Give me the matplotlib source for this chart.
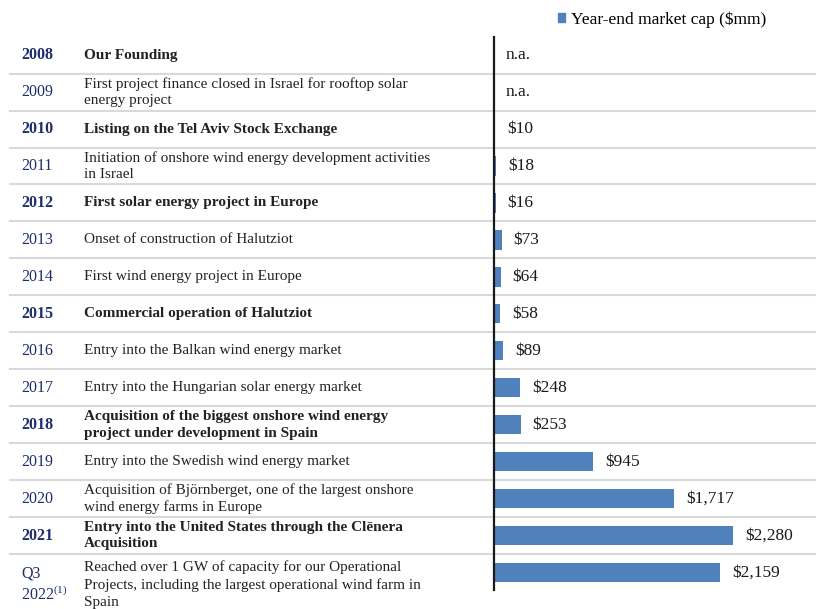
import matplotlib
matplotlib.use('Agg')
import matplotlib.pyplot as plt
import matplotlib.transforms as mtransforms
from matplotlib.patches import Patch
import numpy as np

plt.rcParams['font.family'] = ['Liberation Serif', 'DejaVu Serif']
plt.rcParams['mathtext.fontset'] = 'custom'
plt.rcParams['mathtext.rm'] = 'Liberation Serif'

# data
years = ['2008', '2009', '2010', '2011', '2012', '2013', '2014', '2015',
         '2016', '2017', '2018', '2019', '2020', '2021',
         'Q3\n2022$^{\\mathrm{(1)}}$']
events = [
    'Our Founding',
    'First project finance closed in Israel for rooftop solar\nenergy project',
    'Listing on the Tel Aviv Stock Exchange',
    'Initiation of onshore wind energy development activities\nin Israel',
    'First solar energy project in Europe',
    'Onset of construction of Halutziot',
    'First wind energy project in Europe',
    'Commercial operation of Halutziot',
    'Entry into the Balkan wind energy market',
    'Entry into the Hungarian solar energy market',
    'Acquisition of the biggest onshore wind energy\nproject under development in Spain',
    'Entry into the Swedish wind energy market',
    'Acquisition of Björnberget, one of the largest onshore\nwind energy farms in Europe',
    'Entry into the United States through the Clēnera\nAcquisition',
    'Reached over 1 GW of capacity for our Operational\nProjects, including the largest operational wind farm in\nSpain',
]
highlight = [True, False, True, False, True, False, False, True,
             False, False, True, False, False, True, False]
market_cap = [np.nan, np.nan, 10, 18, 16, 73, 64, 58, 89, 248, 253, 945, 1717, 2280, 2159]

W, H = 816, 609
fig = plt.figure(figsize=(W / 100, H / 100), dpi=100)
ax = fig.add_axes([494 / W, 19 / H, (W - 494) / W, 553 / H])

bar_color = '#4f81bd'
rows = np.arange(len(years))
vals = np.nan_to_num(np.array(market_cap, dtype=float))
ax.barh(rows, vals, height=0.52, color=bar_color, zorder=2)

ax.set_xlim(0, 3072)
ax.set_ylim(14.47, -0.49)
for s in ['top', 'right', 'bottom']:
    ax.spines[s].set_visible(False)
ax.spines['left'].set_color('#1a1a1a')
ax.spines['left'].set_linewidth(1.6)
ax.spines['left'].set_zorder(5)
ax.set_xticks([])
ax.set_yticks([])

# value labels, offset 12 px from bar end
offset = mtransforms.offset_copy(ax.transData, fig=fig, x=12, y=0, units='dots')
for i, v in enumerate(market_cap):
    lab = 'n.a.' if np.isnan(v) else '${:,.0f}'.format(v)
    ax.text(vals[i], i, lab, transform=offset, ha='left', va='center',
            fontsize=12.5, color='#1a1a1a')

# left table: years and events
fig_x = mtransforms.blended_transform_factory(fig.transFigure, ax.transData)
for i in rows:
    w = 'bold' if highlight[i] else 'normal'
    # last row's text sits lower than its bar
    tr = fig_x
    if i == rows[-1]:
        tr = mtransforms.offset_copy(fig_x, fig=fig, x=0, y=-12, units='dots')
    ax.text(21 / W, i, years[i], transform=tr, ha='left', va='center',
            fontsize=11.5, color='#1f2d6b', fontweight=w, linespacing=1.3,
            clip_on=False)
    ax.text(84 / W, i, events[i], transform=tr, ha='left', va='center',
            fontsize=11, color='#222222', fontweight=w, linespacing=1.36,
            clip_on=False)

# row separators
for i in rows[:-1]:
    ax.plot([10 / W, 1.0], [i + 0.5, i + 0.5], transform=fig_x, color='#d9d9d9',
            lw=1.5, clip_on=False, zorder=1)

fig.legend(handles=[Patch(color=bar_color)], labels=['Year-end market cap ($mm)'],
           loc='upper left', bbox_to_anchor=(548 / W, 1 - 1 / H), frameon=False,
           fontsize=12.5, handlelength=0.38, handleheight=0.38, handletextpad=0.35,
           borderaxespad=0.2)

fig.savefig('out.png', dpi=100)
